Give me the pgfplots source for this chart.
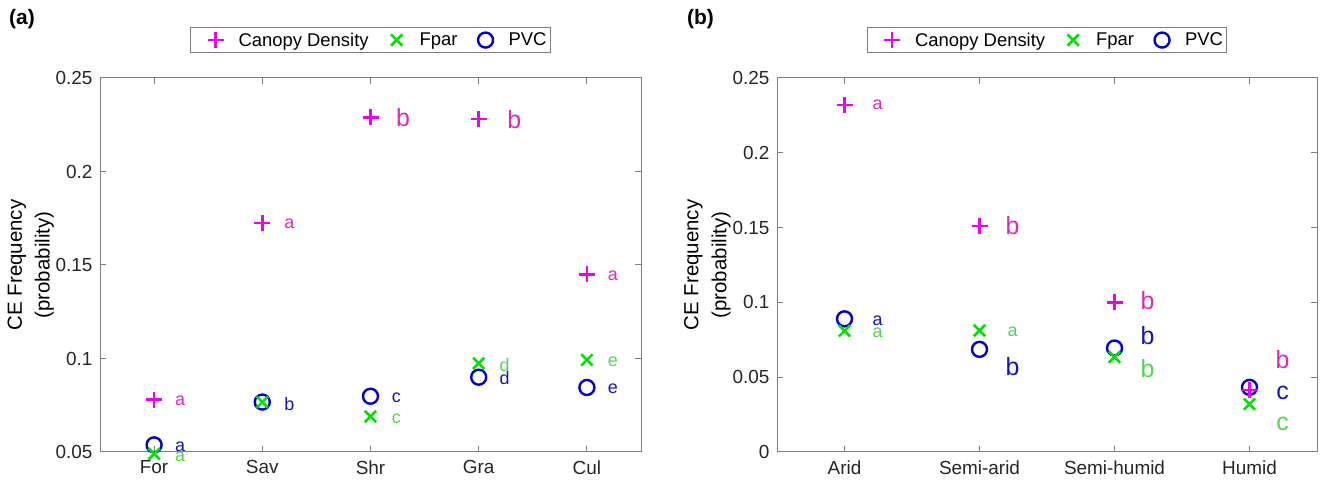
\documentclass[border=0pt]{standalone}
\usepackage{pgfplots}
\pgfplotsset{compat=1.18}
\usepackage{fontspec}
\setmainfont{Liberation Sans}
\definecolor{cmag}{RGB}{238,0,238}
\definecolor{cgrn}{RGB}{0,225,0}
\definecolor{cblu}{RGB}{0,0,210}
\definecolor{lmag}{RGB}{222,40,185}
\definecolor{lgrn}{RGB}{80,215,80}
\definecolor{lblu}{RGB}{20,20,185}
\definecolor{axgray}{RGB}{125,125,125}
\newcommand{\fs}[1]{\fontsize{#1}{#1}\selectfont}
\pgfplotsset{
  myaxis/.style={
    scale only axis, anchor=south west, height=374bp,
    axis line style={axgray, line width=1bp},
    every tick/.style={axgray, line width=1bp},
    major tick length=6bp,
    tick label style={font=\fs{19}, text=black!85},
    xticklabel style={yshift=-5bp},
    yticklabel style={xshift=-4bp},
    /pgf/number format/assume math mode=true,
    legend columns=3,
    legend style={at={(0.5,1)}, anchor=south, yshift=25bp, draw=axgray, line width=1bp,
      font=\fs{18.5}, inner xsep=2bp, inner ysep=3bp,
      /tikz/every even column/.append style={column sep=3bp}},
    legend image code/.code={\path[draw=none, fill=none] (0bp,0bp) -- (44bp,0bp);
      \draw[#1, draw=none] plot coordinates {(23bp,0bp)};},
    legend cell align=left,
    ylabel style={font=\fontsize{20.5}{28}\selectfont, align=center},
    clip=false,
  },
  cd/.style={only marks, mark=+, mark size=8bp, color=cmag, mark options={line width=2.6bp, draw=cmag}},
  fp/.style={only marks, mark=x, mark size=8bp, color=cgrn, mark options={line width=2.6bp, draw=cgrn}},
  pv/.style={only marks, mark=o, mark size=7.5bp, color=cblu, mark options={line width=2.4bp, draw=cblu}},
}
\newcommand{\lt}[5]{\node[text=#3, font=\fs{#4}, inner sep=0pt] at (axis cs:#1,#2) {#5};}
\begin{document}
\begin{tikzpicture}[x=1bp,y=1bp]
\useasboundingbox (0,0) rectangle (1322,486);
\node[font=\fs{21}\bfseries, anchor=north west, inner sep=0pt] at (9,477) {(a)};
\node[font=\fs{21}\bfseries, anchor=north west, inner sep=0pt] at (687,477) {(b)};
\begin{axis}[myaxis, at={(100bp,34bp)}, width=541bp,
  xmin=0.5, xmax=5.5, ymin=0.05, ymax=0.25,
  xtick={1,2,3,4,5}, xticklabels={For,Sav,Shr,Gra,Cul},
  ytick={0.05,0.1,0.15,0.2,0.25}, yticklabels={0.05,0.1,0.15,0.2,0.25},
  ylabel={CE Frequency\\(probability)},
  ylabel style={at={(axis description cs:-0.128,0.5)}, anchor=center},
]
\addlegendimage{cd}\addlegendentry{Canopy Density}
\addlegendimage{fp}\addlegendentry{Fpar}
\addlegendimage{pv}\addlegendentry{PVC}
\addplot[pv, forget plot] coordinates {(1,0.0538) (2,0.0767) (3,0.0798) (4,0.0900) (5,0.0845)};
\addplot[fp, forget plot] coordinates {(1,0.0490) (2,0.0767) (3,0.0690) (4,0.0974) (5,0.0992)};
\addplot[cd, forget plot] coordinates {(1,0.0780) (2,0.1725) (3,0.2290) (4,0.2280) (5,0.1450)};
\lt{1.24}{0.0775}{lmag}{18}{a}
\lt{1.24}{0.0530}{lblu}{18}{a}
\lt{1.24}{0.0475}{lgrn}{18}{a}
\lt{2.25}{0.1720}{lmag}{18}{a}
\lt{2.25}{0.0755}{lblu}{18}{b}
\lt{3.30}{0.2290}{lmag}{25}{b}
\lt{3.24}{0.0790}{lblu}{18}{c}
\lt{3.24}{0.0680}{lgrn}{18}{c}
\lt{4.33}{0.2280}{lmag}{25}{b}
\lt{4.24}{0.0965}{lgrn}{18}{d}
\lt{4.24}{0.0895}{lblu}{18}{d}
\lt{5.24}{0.1445}{lmag}{18}{a}
\lt{5.24}{0.0985}{lgrn}{18}{e}
\lt{5.24}{0.0840}{lblu}{18}{e}
\end{axis}
\begin{axis}[myaxis, at={(777bp,34bp)}, width=540bp,
  xmin=0.5, xmax=4.5, ymin=0, ymax=0.25,
  xtick={1,2,3,4}, xticklabels={Arid,Semi-arid,Semi-humid,Humid},
  ytick={0,0.05,0.1,0.15,0.2,0.25}, yticklabels={0,0.05,0.1,0.15,0.2,0.25},
  ylabel={CE Frequency\\(probability)},
  ylabel style={at={(axis description cs:-0.129,0.5)}, anchor=center},
]
\addlegendimage{cd}\addlegendentry{Canopy Density}
\addlegendimage{fp}\addlegendentry{Fpar}
\addlegendimage{pv}\addlegendentry{PVC}
\addplot[pv, forget plot] coordinates {(1,0.0890) (2,0.0686) (3,0.0695) (4,0.0432)};
\addplot[fp, forget plot] coordinates {(1,0.0810) (2,0.0812) (3,0.0635) (4,0.0320)};
\addplot[cd, forget plot] coordinates {(1,0.2320) (2,0.1510) (3,0.1000) (4,0.0415)};
\lt{1.245}{0.2320}{lmag}{18}{a}
\lt{1.245}{0.0880}{lblu}{18}{a}
\lt{1.245}{0.0800}{lgrn}{18}{a}
\lt{2.245}{0.1510}{lmag}{25}{b}
\lt{2.245}{0.0805}{lgrn}{18}{a}
\lt{2.245}{0.0570}{lblu}{25}{b}
\lt{3.245}{0.1015}{lmag}{25}{b}
\lt{3.245}{0.0775}{lblu}{25}{b}
\lt{3.245}{0.0555}{lgrn}{25}{b}
\lt{4.245}{0.0620}{lmag}{25}{b}
\lt{4.245}{0.0395}{lblu}{25}{c}
\lt{4.245}{0.0190}{lgrn}{25}{c}
\end{axis}
\end{tikzpicture}
\end{document}
